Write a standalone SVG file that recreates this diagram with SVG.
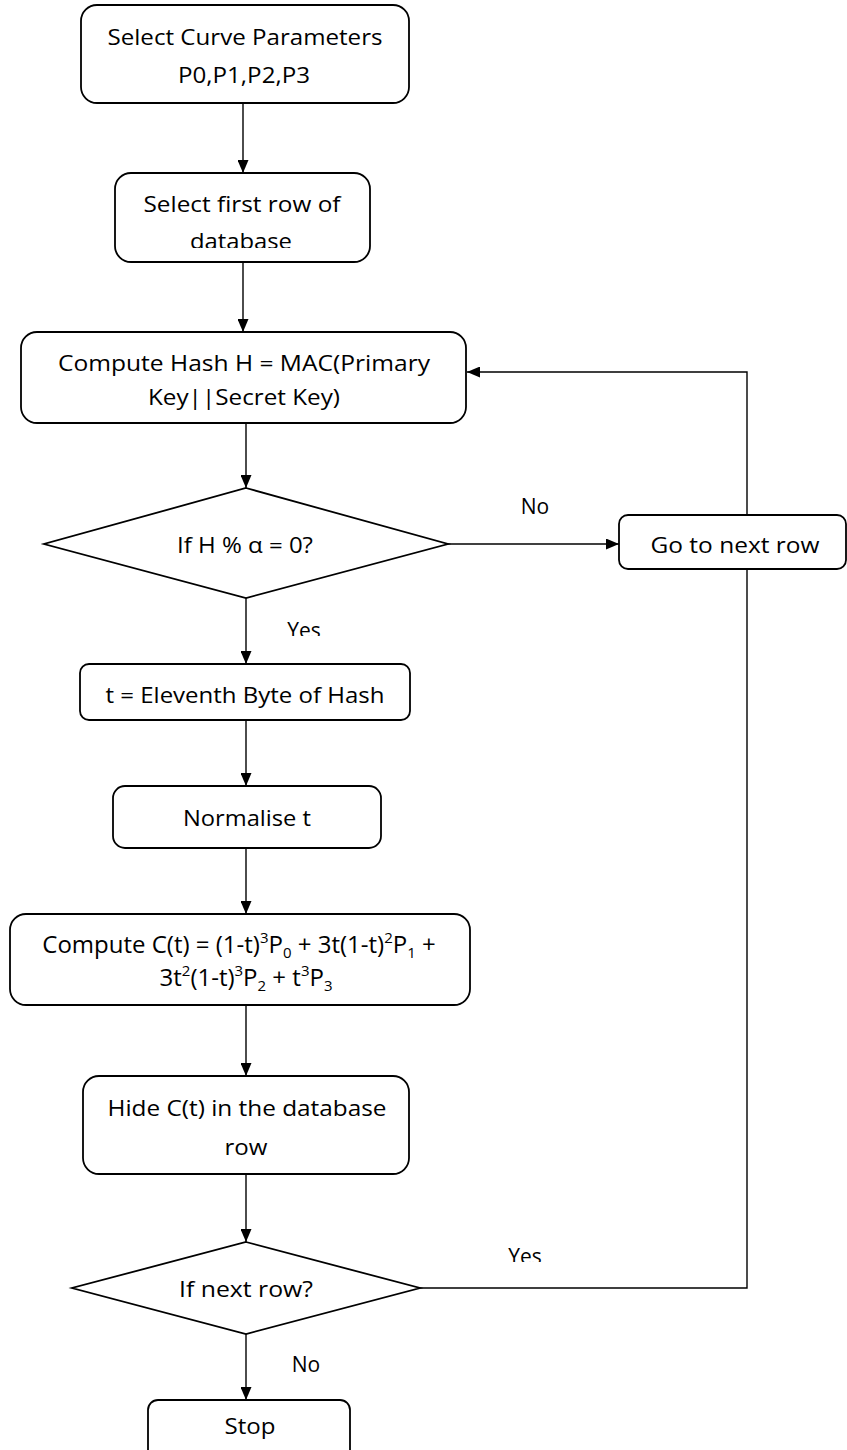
<svg xmlns="http://www.w3.org/2000/svg" width="847" height="1450" viewBox="0 0 847 1450">
<defs>
<marker id="arr" markerWidth="13" markerHeight="11" refX="13" refY="5.5" orient="auto" markerUnits="userSpaceOnUse">
<path d="M0,0 L13,5.5 L0,11 Z" fill="#000"/>
</marker>
<clipPath id="clipDb"><rect x="0" y="0" width="847" height="248"/></clipPath>
<clipPath id="clipYes1"><rect x="0" y="600" width="847" height="36"/></clipPath>
<clipPath id="clipYes2"><rect x="0" y="1230" width="847" height="32"/></clipPath>
</defs>
<style>
.box{fill:#fff;stroke:#000;stroke-width:1.8}
.t{font-family:"Open Sans","Liberation Sans",sans-serif;font-size:21px;fill:#000;text-anchor:middle}
.f{font-size:24px}
.s{font-size:15px}
.c{fill:none;stroke:#000;stroke-width:1.4}
</style>
<rect width="847" height="1450" fill="#fff"/>
<g id="connectors">
<line class="c" x1="243" y1="103" x2="243" y2="173" marker-end="url(#arr)"/>
<line class="c" x1="243" y1="262" x2="243" y2="332" marker-end="url(#arr)"/>
<line class="c" x1="246" y1="423" x2="246" y2="488" marker-end="url(#arr)"/>
<line class="c" x1="448" y1="544" x2="619" y2="544" marker-end="url(#arr)"/>
<polyline class="c" points="747,515 747,372 467,372" marker-end="url(#arr)"/>
<line class="c" x1="246" y1="598" x2="246" y2="664" marker-end="url(#arr)"/>
<line class="c" x1="246" y1="720" x2="246" y2="786" marker-end="url(#arr)"/>
<line class="c" x1="246" y1="848" x2="246" y2="914" marker-end="url(#arr)"/>
<line class="c" x1="246" y1="1005" x2="246" y2="1076" marker-end="url(#arr)"/>
<line class="c" x1="246" y1="1174" x2="246" y2="1242" marker-end="url(#arr)"/>
<polyline class="c" points="420,1288 747,1288 747,569"/>
<line class="c" x1="246" y1="1334" x2="246" y2="1400" marker-end="url(#arr)"/>
<text class="t" x="535" y="514">No</text>
<g clip-path="url(#clipYes1)"><text class="t" x="304" y="638">Yes</text></g>
<g clip-path="url(#clipYes2)"><text class="t" x="525" y="1264">Yes</text></g>
<text class="t" x="306" y="1372">No</text>
</g>
<g id="n1">
<rect class="box" x="81" y="5" width="328" height="98" rx="16"/>
<text class="t" x="245" y="45" textLength="275" lengthAdjust="spacingAndGlyphs">Select Curve Parameters</text>
<text class="t" x="244" y="83" textLength="132" lengthAdjust="spacingAndGlyphs">P0,P1,P2,P3</text>
</g>
<g id="n2">
<rect class="box" x="115" y="173" width="255" height="89" rx="16"/>
<text class="t" x="242" y="212" textLength="197" lengthAdjust="spacingAndGlyphs">Select first row of</text>
<g clip-path="url(#clipDb)"><text class="t" x="241" y="249" textLength="102" lengthAdjust="spacingAndGlyphs">database</text></g>
</g>
<g id="n3">
<rect class="box" x="21" y="332" width="445" height="91" rx="16"/>
<text class="t" x="244" y="371" textLength="372" lengthAdjust="spacingAndGlyphs">Compute  Hash H = MAC(Primary</text>
<text class="t" x="244" y="405" textLength="192" lengthAdjust="spacingAndGlyphs">Key||Secret Key)</text>
</g>
<g id="d1">
<polygon class="box" points="246,488 448,544 246,598 44,544"/>
<text class="t" x="245" y="553" textLength="136" lengthAdjust="spacingAndGlyphs">If H % α = 0?</text>
</g>
<g id="n4">
<rect class="box" x="619" y="515" width="227" height="54" rx="9"/>
<text class="t" x="735" y="553" textLength="169" lengthAdjust="spacingAndGlyphs">Go to next row</text>
</g>
<g id="n5">
<rect class="box" x="80" y="664" width="330" height="56" rx="9"/>
<text class="t" x="245" y="703" textLength="279" lengthAdjust="spacingAndGlyphs">t = Eleventh Byte of Hash</text>
</g>
<g id="n6">
<rect class="box" x="113" y="786" width="268" height="62" rx="12"/>
<text class="t" x="247" y="826" textLength="128" lengthAdjust="spacingAndGlyphs">Normalise t</text>
</g>
<g id="n7">
<rect class="box" x="10" y="914" width="460" height="91" rx="16"/>
<text class="t f" x="239" y="953">Compute C(t) = (1-t)<tspan class="s" dy="-10">3</tspan><tspan dy="10">P</tspan><tspan class="s" dy="5">0</tspan><tspan dy="-5"> + 3t(1-t)</tspan><tspan class="s" dy="-10">2</tspan><tspan dy="10">P</tspan><tspan class="s" dy="5">1</tspan><tspan dy="-5"> +</tspan></text>
<text class="t f" x="246" y="986">3t<tspan class="s" dy="-10">2</tspan><tspan dy="10">(1-t)</tspan><tspan class="s" dy="-10">3</tspan><tspan dy="10">P</tspan><tspan class="s" dy="5">2</tspan><tspan dy="-5"> + t</tspan><tspan class="s" dy="-10">3</tspan><tspan dy="10">P</tspan><tspan class="s" dy="5">3</tspan></text>
</g>
<g id="n8">
<rect class="box" x="83" y="1076" width="326" height="98" rx="16"/>
<text class="t" x="247" y="1116" textLength="279" lengthAdjust="spacingAndGlyphs">Hide C(t) in the database</text>
<text class="t" x="246" y="1155" textLength="43" lengthAdjust="spacingAndGlyphs">row</text>
</g>
<g id="d2">
<polygon class="box" points="246,1242 420,1288 246,1334 72,1288"/>
<text class="t" x="246" y="1297" textLength="134" lengthAdjust="spacingAndGlyphs">If next row?</text>
</g>
<g id="n9">
<rect class="box" x="148" y="1400" width="202" height="70" rx="10"/>
<text class="t" x="250" y="1434" textLength="51" lengthAdjust="spacingAndGlyphs">Stop</text>
</g>
</svg>
